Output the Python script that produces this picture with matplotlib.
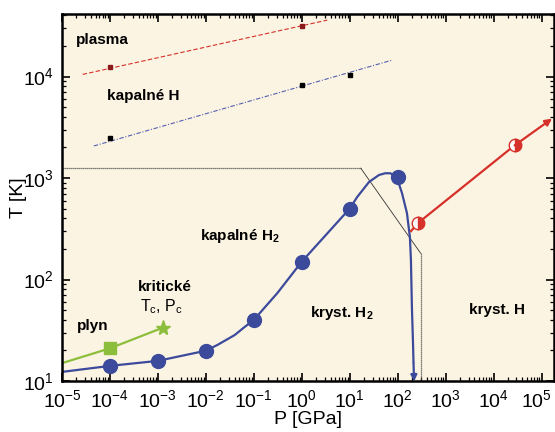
import matplotlib
matplotlib.use("Agg")
import matplotlib.pyplot as plt
import matplotlib.ticker as mticker
import matplotlib.transforms as mtransforms
import numpy as np

plt.rcParams["font.family"] = ["Liberation Sans", "DejaVu Sans"]
plt.rcParams["mathtext.fontset"] = "custom"
plt.rcParams["mathtext.rm"] = "Liberation Sans"
plt.rcParams["mathtext.it"] = "Liberation Sans:italic"
plt.rcParams["mathtext.bf"] = "Liberation Sans:bold"
plt.rcParams["mathtext.default"] = "regular"
plt.rcParams["axes.unicode_minus"] = False

# tavení H2 (body + průběh čáry)
melt_p = [1e-4, 1e-3, 1e-2, 1e-1, 1, 10, 100]
melt_t = [14.1, 15.8, 19.9, 40, 150, 500, 1020]
melt_curve_p = [1e-5, 1e-4, 1e-3, 1e-2, 0.0175, 0.04, 0.064, 0.1, 0.31, 1, 10,
                14.3, 25.3, 40.8, 55, 70, 95, 123, 156, 180, 189, 198, 208, 214]
melt_curve_t = [12.3, 14.1, 15.8, 19.9, 22.7, 28.4, 34, 40, 73.6, 150, 500,
                650, 915, 1072, 1115, 1115, 1030, 711, 452, 262, 156, 53.6, 25.3, 15]
melt_arrow_p = [214, 220]
melt_arrow_t = [15, 9.9]

# plyn - kapalina
gas_p = [1e-5, 1e-4, 1.26e-3]
gas_t = [15, 21, 33.5]

# kov. H
metal_p = [190, 265, 27500]
metal_t = [300, 360, 2100]
metal_mark_p = [265, 27500]
metal_mark_t = [360, 2100]
metal_arrow_p = [27500, 10**5.22]
metal_arrow_t = [2100, 3850]

# hranice H2 / H
bound_p = [1e-5, 17, 300, 300]
bound_t = [1250, 1250, 182, 10]

# plasma
plasma_p = [2.7e-5, 3.4]
plasma_t = [10500, 36000]
plasma_mark_p = [1e-4, 1]
plasma_mark_t = [12300, 31700]

# kapalné H
liqh_p = [4.6e-5, 76]
liqh_t = [2070, 14500]
liqh_mark_p = [1e-4, 1, 10]
liqh_mark_t = [2500, 8300, 10300]

x_decades = np.arange(-5, 6)
y_decades = np.arange(1, 5)

BLUE = "#3C4A9C"
GREEN = "#8CBE3C"
RED = "#D5302A"
BG = "#FCF4E2"

fig = plt.figure(figsize=(5.55, 4.32), dpi=100)
ax = fig.add_axes([0.1117, 0.118, 0.8865, 0.8495])
ax.set_facecolor(BG)
ax.set_xscale("log")
ax.set_yscale("log")
ax.set_xlim(1e-5, 10**5.26)
ax.set_ylim(10, 10**4.616)

ax.plot(bound_p[:2], bound_t[:2], color="#555555", lw=0.9, ls=(0, (1, 0.6)))
ax.plot(bound_p[1:3], bound_t[1:3], color="#333333", lw=0.6)
ax.plot(bound_p[2:], bound_t[2:], color="#555555", lw=0.9, ls=(0, (1, 0.6)))

ax.plot(plasma_p, plasma_t, color=RED, lw=0.8, ls=(0, (4, 2)))
ax.plot(plasma_mark_p, plasma_mark_t, ls="none", marker="s", ms=2.5, color="#8B1A1A")
ax.plot(liqh_p, liqh_t, color="#5560B0", lw=0.8, ls=(0, (4, 1.5, 1, 1.5)))
ax.plot(liqh_mark_p, liqh_mark_t, ls="none", marker="s", ms=2.8, color="black")

ax.plot(gas_p, gas_t, color=GREEN, lw=1.6)
ax.plot(gas_p[1], gas_t[1], marker="s", ms=8.5, color=GREEN, ls="none")
ax.plot(gas_p[2], gas_t[2], marker="*", ms=11, color=GREEN, ls="none")

ax.plot(melt_curve_p, melt_curve_t, color=BLUE, lw=1.6, solid_capstyle="butt",
        solid_joinstyle="round")
ax.annotate("", xy=(melt_arrow_p[1], melt_arrow_t[1]),
            xytext=(melt_arrow_p[0], melt_arrow_t[0]),
            arrowprops=dict(arrowstyle="-|>", color=BLUE, lw=1.6,
                            mutation_scale=9, shrinkA=0, shrinkB=0),
            annotation_clip=False)
ax.plot(melt_p, melt_t, ls="none", marker="o", ms=10, color=BLUE)

ax.plot(metal_p, metal_t, color=RED, lw=1.6)
ax.annotate("", xy=(metal_arrow_p[1], metal_arrow_t[1]),
            xytext=(metal_arrow_p[0], metal_arrow_t[0]),
            arrowprops=dict(arrowstyle="-|>", color=RED, lw=1.6,
                            mutation_scale=10, shrinkA=0, shrinkB=0))
ax.plot(metal_mark_p, metal_mark_t, ls="none", marker="o", ms=9, color=RED,
        fillstyle="right", markerfacecoloralt="white", markeredgecolor=RED,
        markeredgewidth=1.0)

lab = dict(transform=ax.transAxes, fontsize=11, fontweight="bold", va="baseline")
ax.text(0.0285, 0.918, "plasma", **lab)
ax.text(0.0915, 0.767, "kapalné H", **lab)
ax.text(0.280, 0.384, "kapalné H$_\\mathbf{2}$", **lab)
ax.text(0.1545, 0.245, "kritické", **lab)
ax.text(0.1585, 0.189, "T$_c$, P$_c$", transform=ax.transAxes, fontsize=11.5,
        va="baseline")
ax.text(0.030, 0.139, "plyn", **lab)
ax.text(0.504, 0.175, "kryst. H$_\\mathbf{2}$", **lab)
ax.text(0.827, 0.183, "kryst. H", **lab)

ax.xaxis.set_major_locator(mticker.FixedLocator(10.0 ** x_decades))
ax.xaxis.set_major_formatter(mticker.LogFormatterSciNotation())
x_minor = [m * 10.0 ** d for d in x_decades for m in range(2, 10) if m * 10.0 ** d < 10**5.26]
ax.xaxis.set_minor_locator(mticker.FixedLocator(x_minor))
ax.xaxis.set_minor_formatter(mticker.NullFormatter())
ax.yaxis.set_major_locator(mticker.FixedLocator(10.0 ** y_decades))
ax.yaxis.set_major_formatter(mticker.LogFormatterSciNotation())
y_minor = [m * 10.0 ** d for d in y_decades for m in range(2, 10) if m * 10.0 ** d < 10**4.616]
ax.yaxis.set_minor_locator(mticker.FixedLocator(y_minor))
ax.yaxis.set_minor_formatter(mticker.NullFormatter())

ax.tick_params(which="both", direction="in", top=True, right=True, labelsize=14,
               color="black")
ax.tick_params(which="major", length=6, width=1.2, pad=6)
ax.tick_params(which="minor", length=3, width=0.9)
for s in ax.spines.values():
    s.set_linewidth(1.8)

# posledni popisek (10^5) trochu doleva, aby se vesel do obrazku
last = ax.xaxis.get_major_ticks(len(x_decades))[-1].label1
last.set_transform(last.get_transform()
                   + mtransforms.ScaledTranslation(-4 / 72, 0, fig.dpi_scale_trans))

ax.set_xlabel("P [GPa]", fontsize=14, labelpad=0)
ax.set_ylabel("T [K]", fontsize=14, labelpad=-3)

fig.savefig("out.png", dpi=100)
